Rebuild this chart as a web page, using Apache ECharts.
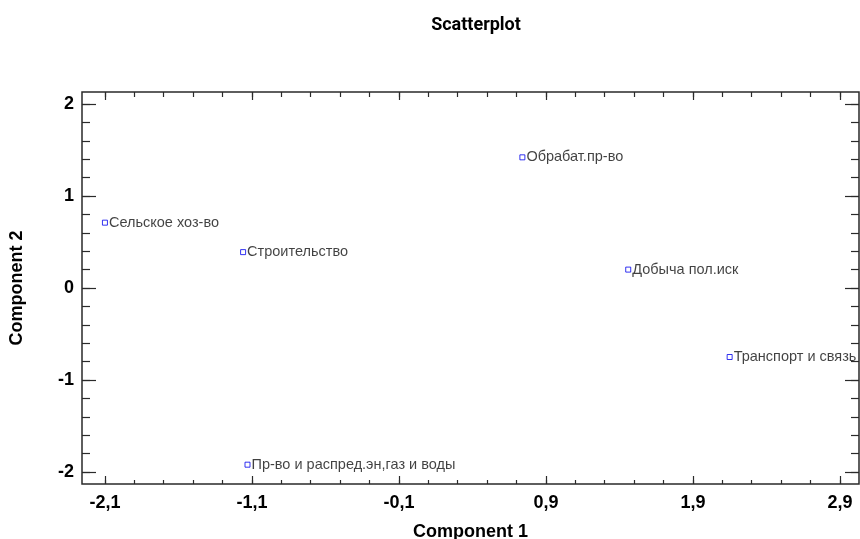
<!DOCTYPE html>
<html>
<head>
<meta charset="utf-8">
<title>Scatterplot</title>
<script src="https://cdn.jsdelivr.net/npm/echarts@6/dist/echarts.min.js"></script>
<style>
html,body{margin:0;padding:0;background:#fff;}
#chart{width:860px;height:539px;}
</style>
</head>
<body>
<div id="chart"></div>
<script>
// отрасли и их координаты по двум компонентам
var sectors = ["Сельское хоз-во", "Строительство", "Обрабат.пр-во", "Добыча пол.иск", "Транспорт и связь", "Пр-во и распред.эн,газ и воды"];
var comp1 = [-2.10, -1.16, 0.74, 1.46, 2.15, -1.13];
var comp2 = [0.71, 0.39, 1.42, 0.20, -0.75, -1.92];

// деления осей
var xTicks = [-2.1, -1.1, -0.1, 0.9, 1.9, 2.9];
var xMinor = [-2.1, -1.9, -1.7, -1.5, -1.3, -1.1, -0.9, -0.7, -0.5, -0.3, -0.1, 0.1, 0.3, 0.5, 0.7, 0.9, 1.1, 1.3, 1.5, 1.7, 1.9, 2.1, 2.3, 2.5, 2.7, 2.9];
var yTicks = [-2, -1, 0, 1, 2];
var yMinor = [-2, -1.8, -1.6, -1.4, -1.2, -1, -0.8, -0.6, -0.4, -0.2, 0, 0.2, 0.4, 0.6, 0.8, 1, 1.2, 1.4, 1.6, 1.8, 2];

var xMin = -2.256, xMax = 3.03;
var yMin = -2.13, yMax = 2.13;

var lineColor = "#2a2a2a";
var boldFont = "Liberation Sans, Arial, sans-serif";

function fmt(v){
      return v.toFixed(1).replace(".", ",");
}

//ось с делениями внутрь, подписи только у основной
function makeAxis(pos, min, max, ticks, len, withLabel){
      var a = {
            type: "value",
            position: pos,
            min: min,
            max: max,
            splitLine: {show: false},
            axisLine: {show: false, onZero: false},
            axisTick: {
                  show: true,
                  inside: true,
                  length: len,
                  customValues: ticks,
                  lineStyle: {color: lineColor, width: 1.2}
            },
            axisLabel: {show: false}
      };
      if(withLabel){
            a.axisLabel = {
                  show: true,
                  customValues: ticks,
                  color: "#000",
                  fontFamily: boldFont,
                  fontWeight: "bold",
                  fontSize: 18
            };
      }
      return a;
}

var xBottom = makeAxis("bottom", xMin, xMax, xTicks, 8, true);
xBottom.axisLabel.margin = 10;
xBottom.axisLabel.formatter = function(v){ return fmt(v); };
xBottom.name = "Component 1";
xBottom.nameLocation = "middle";
xBottom.nameGap = 39;
xBottom.nameTextStyle = {color: "#000", fontFamily: boldFont, fontWeight: "bold", fontSize: 18};

var yLeft = makeAxis("left", yMin, yMax, yTicks, 14, true);
yLeft.axisLabel.margin = 8;
yLeft.axisLabel.formatter = function(v){ return String(Math.round(v)); };
yLeft.name = "Component 2";
yLeft.nameLocation = "middle";
yLeft.nameGap = 56;
yLeft.nameTextStyle = {color: "#000", fontFamily: boldFont, fontWeight: "bold", fontSize: 18};

var points = [];
for(var i = 0; i < sectors.length; i++){
      points.push([comp1[i], comp2[i], sectors[i]]);
}

var option = {
      backgroundColor: "#fff",
      animation: false,
      title: {
            text: "Scatterplot",
            left: 471,
            top: 11,
            textAlign: "center",
            textStyle: {color: "#000", fontFamily: "Roboto, Liberation Sans, sans-serif", fontWeight: "bold", fontSize: 18}
      },
      grid: {
            left: 82,
            top: 92,
            right: 1,
            bottom: 55,
            containLabel: false,
            outerBoundsMode: "none",
            show: true,
            borderColor: lineColor,
            borderWidth: 1.5,
            backgroundColor: "transparent"
      },
      xAxis: [
            xBottom,
            makeAxis("bottom", xMin, xMax, xMinor, 4, false),
            makeAxis("top", xMin, xMax, xTicks, 8, false),
            makeAxis("top", xMin, xMax, xMinor, 5, false)
      ],
      yAxis: [
            yLeft,
            makeAxis("left", yMin, yMax, yMinor, 8, false),
            makeAxis("right", yMin, yMax, yTicks, 14, false),
            makeAxis("right", yMin, yMax, yMinor, 8, false)
      ],
      series: [
            {
                  type: "scatter",
                  xAxisIndex: 0,
                  yAxisIndex: 0,
                  data: points,
                  symbol: "rect",
                  symbolSize: 5,
                  itemStyle: {
                        color: "#fff",
                        borderColor: "#0000ee",
                        borderWidth: 1
                  },
                  label: {
                        show: true,
                        position: "right",
                        distance: 1,
                        color: "#111",
                        fontFamily: "Liberation Sans, Arial, sans-serif",
                        fontSize: 14.5,
                        formatter: function(p){ return p.data[2]; }
                  },
                  emphasis: {disabled: true}
            }
      ]
};

var mychart = echarts.init(document.getElementById("chart"));
mychart.setOption(option);
</script>
</body>
</html>
